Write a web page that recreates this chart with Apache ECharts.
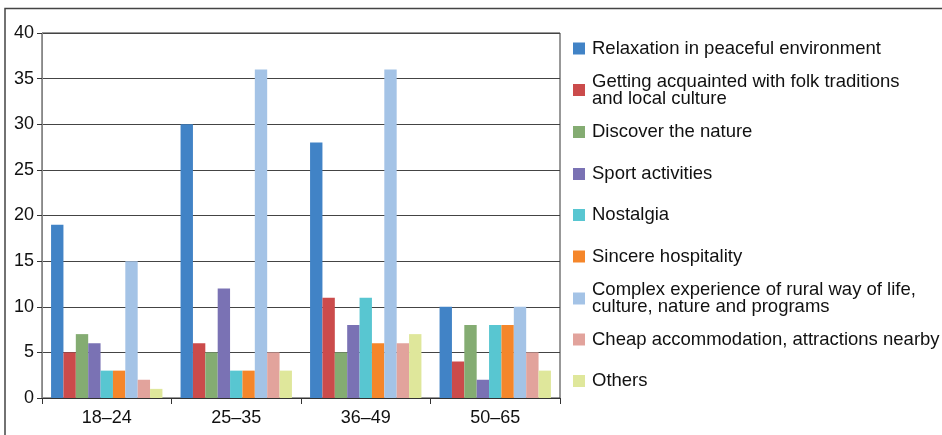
<!DOCTYPE html>
<html>
<head>
<meta charset="utf-8">
<script src="https://cdn.jsdelivr.net/npm/echarts@6/dist/echarts.min.js"></script>
<style>
html,body{margin:0;padding:0;background:#fff;}
#chart{width:942px;height:435px;}
</style>
</head>
<body>
<div id="chart"></div>
<script>
const categories = ['18–24', '25–35', '36–49', '50–65'];
const seriesNames = [
  'Relaxation in peaceful environment',
  'Getting acquainted with folk traditions and local culture',
  'Discover the nature',
  'Sport activities',
  'Nostalgia',
  'Sincere hospitality',
  'Complex experience of rural way of life, culture, nature and programs',
  'Cheap accommodation, attractions nearby',
  'Others'
];
const legendLabels = [
  'Relaxation in peaceful environment',
  'Getting acquainted with folk traditions\nand local culture',
  'Discover the nature',
  'Sport activities',
  'Nostalgia',
  'Sincere hospitality',
  'Complex experience of rural way of life,\nculture, nature and programs',
  'Cheap accommodation, attractions nearby',
  'Others'
];
const relaxation = [19, 30, 28, 10];
const folkTraditions = [5, 6, 11, 4];
const nature = [7, 5, 5, 8];
const sport = [6, 12, 8, 2];
const nostalgia = [3, 3, 11, 8];
const hospitality = [3, 3, 6, 8];
const complexExperience = [15, 36, 36, 10];
const cheapAccommodation = [2, 5, 6, 5];
const others = [1, 3, 7, 3];
const yTicks = [0, 5, 10, 15, 20, 25, 30, 35, 40];

const seriesData = [relaxation, folkTraditions, nature, sport, nostalgia, hospitality, complexExperience, cheapAccommodation, others];
const colors = ['#4183C6', '#CB4B4B', '#84AC72', '#7A72B4', '#58C6D1', '#F5862A', '#A4C3E6', '#E2A39C', '#DFE79B'];

const FONT = 'Liberation Sans, Arial, sans-serif';
const chart = echarts.init(document.getElementById('chart'), null, {renderer: 'canvas'});

const legendCenters = [47.5, 89, 131, 173, 214, 255.5, 297.5, 338.5, 380];
const legends = seriesNames.map((name, i) => {
  const lines = legendLabels[i].split('\n').length;
  const h = lines * 17;
  return {
    show: true,
    orient: 'vertical',
    left: 573,
    top: legendCenters[i] - h / 2,
    padding: 0,
    itemWidth: 12,
    itemHeight: 12,
    icon: 'rect',
    selectedMode: false,
    data: [name],
    formatter: () => legendLabels[i],
    textStyle: {fontFamily: FONT, fontSize: 18.5, color: '#111', lineHeight: 17, padding: [0, 0, 0, 2]}
  };
});

chart.setOption({
  animation: false,
  color: colors,
  legend: legends,
  grid: {left: 42, right: 382, top: 33, bottom: 37, show: true, borderColor: '#333', borderWidth: 1, backgroundColor: 'transparent'},
  xAxis: {
    type: 'category',
    data: categories,
    boundaryGap: true,
    axisLine: {lineStyle: {color: '#333', width: 1}},
    axisTick: {show: true, alignWithLabel: false, length: 6, lineStyle: {color: '#333'}},
    axisLabel: {fontFamily: FONT, fontSize: 18, color: '#111', margin: 11}
  },
  yAxis: {
    type: 'value',
    min: 0,
    max: 40,
    interval: 5,
    axisLine: {show: true, lineStyle: {color: '#888', width: 1}},
    axisTick: {show: true, length: 5, lineStyle: {color: '#333'}},
    axisLabel: {fontFamily: FONT, fontSize: 18, color: '#111', margin: 8,
      formatter: v => yTicks.includes(v) ? String(v) : ''},
    splitLine: {show: true, lineStyle: {color: '#444', width: 1}}
  },
  graphic: [{
    type: 'polyline',
    shape: {points: [[5, 435], [5, 8.5], [942, 8.5]]},
    style: {stroke: '#444', lineWidth: 1.5, fill: null},
    silent: true
  }],
  series: seriesNames.map((name, i) => ({
    name: name,
    type: 'bar',
    data: seriesData[i],
    barGap: '0%',
    barCategoryGap: '14%',
    itemStyle: {color: colors[i]}
  }))
});
</script>
</body>
</html>
